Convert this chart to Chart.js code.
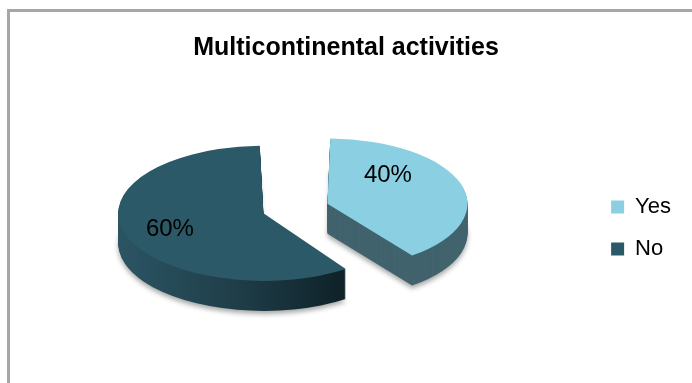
<!DOCTYPE html>
<html>
<head>
<meta charset="utf-8">
<script src="https://cdn.jsdelivr.net/npm/chart.js@4.4.1/dist/chart.umd.min.js"></script>
<style>
  html, body { margin: 0; padding: 0; background: #fff; }
  #wrap { position: relative; width: 692px; height: 383px; overflow: hidden; }
  #frame { position: absolute; left: 7px; top: 9px; width: 720px; height: 420px; border: 3px solid #a6a6a6; }
  canvas { position: absolute; left: 0; top: 0; }
</style>
</head>
<body>
<div id="wrap">
  <div id="frame"></div>
  <canvas id="pieChart" width="692" height="383"></canvas>
</div>
<script>
const categories = ['Yes', 'No'];
const shares = [40, 60];
const topColors = ['#8bcfe2', '#2c5967'];

// 3d look: squash the pie vertically and stack darker copies under it
const tilt = 0.465;
const depth = 30;
const shiftX = -15.5;
const shiftY = -18;
const labelNudge = [[2.5, -20], [-35.5, 7]];

const pie3d = {
    id: 'pie3d',
    beforeDatasetsDraw(chart) {
        const ctx = chart.ctx;
        const arcs = chart.getDatasetMeta(0).data;
        const cx = arcs[0].x, cy = arcs[0].y, R = arcs[0].outerRadius;
        ctx.save();
        ctx.translate(shiftX, shiftY);
        ctx.translate(0, cy);
        ctx.scale(1, tilt);
        ctx.translate(0, -cy);

        const darkSide = ctx.createLinearGradient(cx - R * 1.25, 0, cx + R * 0.6, 0);
        darkSide.addColorStop(0, '#2c5665');
        darkSide.addColorStop(0.55, '#1f3e49');
        darkSide.addColorStop(1, '#10232a');
        const sideColors = ['#41636d', darkSide];

        for (let d = depth; d >= 1; d--) {
            ctx.save();
            ctx.translate(0, d / tilt);
            if (d === depth) {
                ctx.shadowColor = 'rgba(0,0,0,0.35)';
                ctx.shadowBlur = 5;
                ctx.shadowOffsetY = 3;
            }
            arcs.forEach((arc, i) => {
                const side = Object.create(arc);
                side.options = Object.assign({}, arc.options, { backgroundColor: sideColors[i] });
                side.draw(ctx);
            });
            ctx.restore();
        }
    },
    afterDatasetsDraw(chart) {
        const ctx = chart.ctx;
        ctx.restore();
        const arcs = chart.getDatasetMeta(0).data;
        ctx.save();
        ctx.fillStyle = '#000';
        ctx.font = '24px "Liberation Sans", Arial, sans-serif';
        ctx.textAlign = 'center';
        ctx.textBaseline = 'middle';
        arcs.forEach((arc, i) => {
            const mid = (arc.startAngle + arc.endAngle) / 2;
            const off = (arc.options.offset || 0) / 4;
            const r = arc.outerRadius * 0.5 + off;
            const x = arc.x + Math.cos(mid) * r;
            const y = arc.y + Math.sin(mid) * r;
            const sx = x + shiftX + labelNudge[i][0];
            const sy = arc.y + (y - arc.y) * tilt + shiftY + labelNudge[i][1];
            ctx.fillText(shares[i] + '%', sx, sy);
        });
        ctx.restore();
    }
};

const pieCtx = document.getElementById('pieChart').getContext('2d');

const pieChart = new Chart(pieCtx, {
    type: 'pie',
    data: {
        labels: categories,
        datasets: [{
            data: shares,
            backgroundColor: topColors,
            borderWidth: 0,
            offset: [176, 93],
            hoverOffset: 0,
            clip: false
        }]
    },
    options: {
        responsive: false,
        animation: false,
        events: [],
        radius: 122,
        layout: { padding: { left: 11, right: 11, top: 0, bottom: 0 } },
        plugins: {
            title: {
                display: true,
                text: 'Multicontinental activities',
                color: '#000',
                font: { family: '"Liberation Sans", Arial, sans-serif', size: 25, weight: 'bold' },
                padding: { top: 33, bottom: 10 }
            },
            legend: {
                position: 'right',
                fullSize: false,
                labels: {
                    boxWidth: 13,
                    boxHeight: 13,
                    padding: 20,
                    color: '#000',
                    font: { family: '"Liberation Sans", Arial, sans-serif', size: 22 }
                }
            },
            tooltip: { enabled: false }
        }
    },
    plugins: [pie3d]
});
</script>
</body>
</html>
